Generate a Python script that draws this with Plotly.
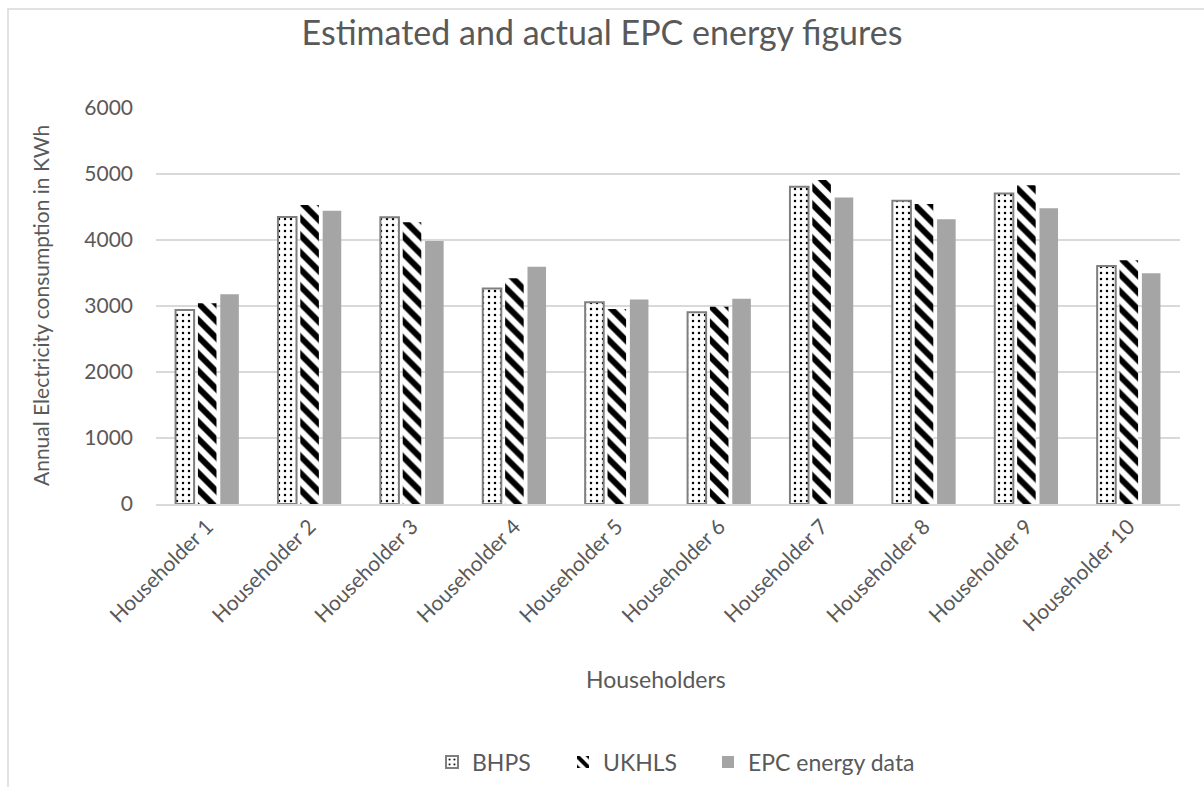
import plotly.graph_objects as go

categories = ["Householder 1", "Householder 2", "Householder 3", "Householder 4", "Householder 5",
              "Householder 6", "Householder 7", "Householder 8", "Householder 9", "Householder 10"]
bhps = [2940, 4350, 4345, 3265, 3055, 2905, 4805, 4595, 4705, 3605]
ukhls = [3040, 4530, 4270, 3420, 2955, 2990, 4910, 4545, 4830, 3695]
epc = [3178, 4445, 3985, 3595, 3100, 3110, 4645, 4315, 4480, 3495]
y_ticks = [0, 1000, 2000, 3000, 4000, 5000, 6000]

FONT = "Lato"
TXT = "#595959"

W, H = 1204, 787
L, R, T, B = 156, 24, 108, 283
pw, ph = W - L - R, H - T - B

def px(x):
    return (x - L) / pw

def py(y):
    return (H - B - y) / ph

fig = go.Figure()
fig.add_trace(go.Bar(
    name="BHPS", x=categories, y=bhps, legend="legend",
    marker=dict(color="white", line=dict(color="#7f7f7f", width=2),
                pattern=dict(shape=".", fgcolor="black", bgcolor="white", fgopacity=1,
                             size=6, solidity=0.14)),
))
fig.add_trace(go.Bar(
    name="UKHLS", x=categories, y=ukhls, legend="legend2",
    marker=dict(color="white", line=dict(width=0),
                pattern=dict(shape="\\", fgcolor="black", bgcolor="white", fgopacity=1,
                             size=12, solidity=0.5)),
))
fig.add_trace(go.Bar(
    name="EPC energy data", x=categories, y=epc, legend="legend3",
    marker=dict(color="#a5a5a5", line=dict(width=0)),
))

leg_common = dict(orientation="h", xanchor="left", y=py(762), yanchor="middle",
                  font=dict(size=23, color=TXT, family=FONT), itemwidth=30,
                  bgcolor="rgba(0,0,0,0)")

fig.update_layout(
    width=W, height=H,
    margin=dict(l=L, r=R, t=T, b=B, autoexpand=False),
    paper_bgcolor="white", plot_bgcolor="white",
    barmode="group", bargap=0.345, bargroupgap=0.17,
    font=dict(family=FONT, color=TXT),
    title=dict(text="Estimated and actual EPC energy figures", x=0.5, xanchor="center",
               y=1 - 33 / H, yanchor="middle", font=dict(size=34, color=TXT, family=FONT)),
    showlegend=True,
    legend=dict(x=px(448 - 16), **leg_common),
    legend2=dict(x=px(580 - 17), **leg_common),
    legend3=dict(x=px(725 - 17), **leg_common),
    xaxis=dict(tickangle=-45, tickfont=dict(size=21, color=TXT, family=FONT), automargin=False,
               showline=True, linecolor="#d9d9d9", linewidth=2, ticks="", showgrid=False),
    yaxis=dict(range=[0, 6000], tickvals=y_ticks, tickfont=dict(size=21, color=TXT, family=FONT),
               showgrid=True, gridcolor="#d9d9d9", gridwidth=2, zeroline=False, showline=False,
               ticks="", ticklabelstandoff=22, automargin=False),
    annotations=[
        dict(text="Annual Electricity consumption in KWh", xref="paper", yref="paper",
             x=px(40), y=py(306), textangle=-90, showarrow=False,
             font=dict(size=21, color=TXT, family=FONT), xanchor="center", yanchor="middle"),
        dict(text="Householders", xref="paper", yref="paper",
             x=px(656), y=py(679), showarrow=False,
             font=dict(size=23, color=TXT, family=FONT), xanchor="center", yanchor="middle"),
    ],
    shapes=[
        dict(type="rect", xref="paper", yref="paper", x0=px(8), y0=py(820), x1=px(1240), y1=py(9),
             line=dict(color="#d9d9d9", width=1.5), fillcolor="rgba(0,0,0,0)", layer="below"),
    ],
)

fig.write_html("out.html", config={"displayModeBar": False},
               post_script="document.body.style.margin='0px';")
